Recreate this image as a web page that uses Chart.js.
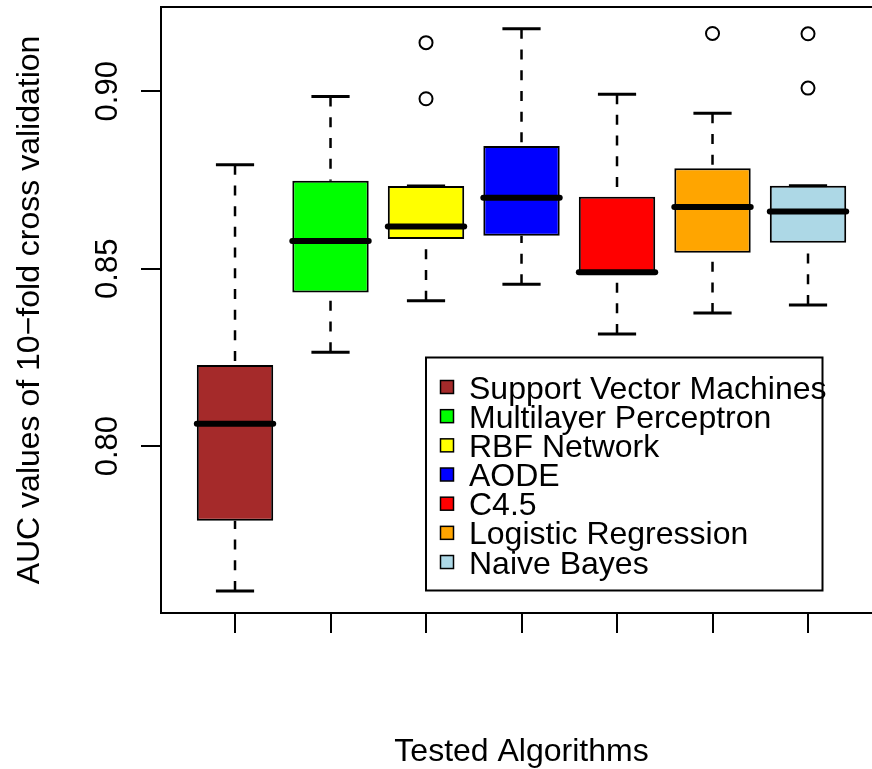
<!DOCTYPE html>
<html>
<head>
<meta charset="utf-8">
<script src="https://cdn.jsdelivr.net/npm/chart.js@4/dist/chart.umd.min.js"></script>
<style>
html,body{margin:0;padding:0;background:#fff;}
#wrap{width:872px;height:769px;}
canvas{display:block;}
</style>
</head>
<body>
<div id="wrap"><canvas id="c" width="872" height="769"></canvas></div>
<script>
// ---- data ----
const categories = ['Support Vector Machines', 'Multilayer Perceptron', 'RBF Network', 'AODE', 'C4.5', 'Logistic Regression', 'Naive Bayes'];
const boxColors = ['#A52A2A', '#00FF00', '#FFFF00', '#0000FF', '#FF0000', '#FFA500', '#ADD8E6'];
const whiskerLow  = [0.7592, 0.8265, 0.8410, 0.8456, 0.8316, 0.8375, 0.8398];
const quartile1   = [0.7790, 0.8433, 0.8584, 0.8593, 0.8490, 0.8545, 0.8573];
const medians     = [0.8063, 0.8578, 0.8619, 0.8700, 0.8490, 0.8674, 0.8661];
const quartile3   = [0.8229, 0.8748, 0.8733, 0.8846, 0.8703, 0.8783, 0.8734];
const whiskerHigh = [0.8793, 0.8985, 0.8733, 0.9176, 0.8992, 0.8938, 0.8734];
const outliers    = [[], [], [0.9137, 0.8979], [], [], [0.9163], [0.9162, 0.9009]];
const yTicks = [0.80, 0.85, 0.90];
const yTickLabels = ['0.80', '0.85', '0.90'];
const xTitle = 'Tested Algorithms';
const yTitle = 'AUC values of 10\u2212fold cross validation';

const FONT = '"Liberation Sans", Arial, Helvetica, sans-serif';

const boxData = categories.map((c, i) => ({ x: i, y: [quartile1[i], quartile3[i]] }));
const outlierData = [];
outliers.forEach((arr, i) => arr.forEach(v => outlierData.push({ x: i, y: v })));

const boxPlugin = {
  id: 'boxExtras',
  beforeDatasetsDraw(chart) {
    const { ctx, scales: { x, y } } = chart;
    ctx.save();
    ctx.strokeStyle = '#000';
    categories.forEach((c, i) => {
      const cx = x.getPixelForValue(i);
      const capHalf = x.getPixelForValue(i + 0.2) - cx;
      // dashed whiskers, drawn from whisker end to hinge
      ctx.lineWidth = 2.5;
      ctx.lineCap = 'butt';
      ctx.setLineDash([10, 10.7]);
      [[whiskerLow[i], quartile1[i]], [whiskerHigh[i], quartile3[i]]].forEach(([a, b]) => {
        if (a === b) return;
        ctx.beginPath();
        ctx.moveTo(cx, y.getPixelForValue(a));
        ctx.lineTo(cx, y.getPixelForValue(b));
        ctx.stroke();
      });
      ctx.setLineDash([]);
      // staples
      ctx.lineWidth = 3;
      [whiskerLow[i], whiskerHigh[i]].forEach(v => {
        const py = y.getPixelForValue(v);
        ctx.beginPath();
        ctx.moveTo(cx - capHalf, py);
        ctx.lineTo(cx + capHalf, py);
        ctx.stroke();
      });
    });
    ctx.restore();
  },
  afterDatasetsDraw(chart) {
    const { ctx, scales: { x, y } } = chart;
    ctx.save();
    ctx.strokeStyle = '#000';
    ctx.lineWidth = 6;
    ctx.lineCap = 'round';
    categories.forEach((c, i) => {
      const cx = x.getPixelForValue(i);
      const half = x.getPixelForValue(i + 0.4) - cx;
      const py = y.getPixelForValue(medians[i]);
      ctx.beginPath();
      ctx.moveTo(cx - half, py);
      ctx.lineTo(cx + half, py);
      ctx.stroke();
    });
    ctx.restore();
  },
  afterDraw(chart) {
    const { ctx, chartArea, scales: { x, y } } = chart;
    ctx.save();
    // top frame line
    ctx.strokeStyle = '#000';
    ctx.lineWidth = 2;
    ctx.beginPath();
    ctx.moveTo(chartArea.left - 1, chartArea.top);
    ctx.lineTo(chartArea.right, chartArea.top);
    ctx.stroke();

    ctx.fillStyle = '#000';
    // y tick labels (rotated, R style)
    ctx.font = '31px ' + FONT;
    ctx.textAlign = 'center';
    ctx.textBaseline = 'alphabetic';
    yTicks.forEach((v, k) => {
      const py = y.getPixelForValue(v);
      ctx.save();
      ctx.translate(chartArea.left - 44, py);
      ctx.rotate(-Math.PI / 2);
      ctx.fillText(yTickLabels[k], 0, 0);
      ctx.restore();
    });
    // axis titles
    ctx.font = '32px ' + FONT;
    ctx.save();
    ctx.translate(chartArea.left - 122.5, (chartArea.top + chartArea.bottom) / 2);
    ctx.rotate(-Math.PI / 2);
    ctx.fillText(yTitle, 0, 0);
    ctx.restore();
    const xMid = (x.getPixelForValue(-0.78) + x.getPixelForValue(categories.length - 0.22)) / 2;
    ctx.fillText(xTitle, xMid, chartArea.bottom + 147.5);

    // legend (boxed, inside plot area)
    const L = { left: 426, top: 357.5, right: 822.5, bottom: 590.5, firstRow: 387, step: 29.17, sq: 13, sqX: 447, textX: 469 };
    ctx.lineWidth = 2;
    ctx.strokeRect(L.left, L.top, L.right - L.left, L.bottom - L.top);
    ctx.textAlign = 'left';
    ctx.font = '32px ' + FONT;
    categories.forEach((name, i) => {
      const cy = L.firstRow + i * L.step;
      ctx.fillStyle = boxColors[i];
      ctx.fillRect(L.sqX - L.sq / 2, cy - L.sq / 2, L.sq, L.sq);
      ctx.lineWidth = 1.5;
      ctx.strokeStyle = '#000';
      ctx.strokeRect(L.sqX - L.sq / 2, cy - L.sq / 2, L.sq, L.sq);
      ctx.fillStyle = '#000';
      ctx.fillText(name, L.textX, cy + 11.5);
    });
    ctx.restore();
  }
};

new Chart(document.getElementById('c'), {
  type: 'bar',
  data: {
    datasets: [
      {
        type: 'bar',
        label: 'box',
        data: boxData,
        backgroundColor: boxColors,
        borderColor: '#000',
        borderWidth: 2,
        borderSkipped: false,
        categoryPercentage: 0.8,
        barPercentage: 1.0,
        order: 2
      },
      {
        type: 'scatter',
        label: 'outliers',
        data: outlierData,
        pointRadius: 6.5,
        pointBorderWidth: 2,
        pointBorderColor: '#000',
        pointBackgroundColor: 'rgba(255,255,255,0)',
        showLine: false,
        order: 1
      }
    ]
  },
  options: {
    responsive: false,
    animation: false,
    devicePixelRatio: 1,
    events: [],
    layout: { autoPadding: false, padding: { top: 7, left: 0, right: 0, bottom: 0 } },
    plugins: { legend: { display: false }, tooltip: { enabled: false }, title: { display: false } },
    scales: {
      x: {
        type: 'linear',
        position: 'bottom',
        min: -0.775,
        max: 6.67,
        offset: false,
        afterBuildTicks: s => { s.ticks = categories.map((c, i) => ({ value: i })); },
        afterFit: s => { s.height = 156; },
        ticks: { display: false },
        grid: { offset: false, drawOnChartArea: false, drawTicks: true, tickLength: 20, color: '#000', lineWidth: 2 },
        border: { display: true, color: '#000', width: 2 }
      },
      y: {
        type: 'linear',
        position: 'left',
        min: 0.7530,
        max: 0.92375,
        afterBuildTicks: s => { s.ticks = yTicks.map(v => ({ value: v })); },
        afterFit: s => { s.width = 161; },
        ticks: { display: false },
        grid: { drawOnChartArea: false, drawTicks: true, tickLength: 20, color: '#000', lineWidth: 2 },
        border: { display: true, color: '#000', width: 2 }
      }
    }
  },
  plugins: [boxPlugin]
});
</script>
</body>
</html>
